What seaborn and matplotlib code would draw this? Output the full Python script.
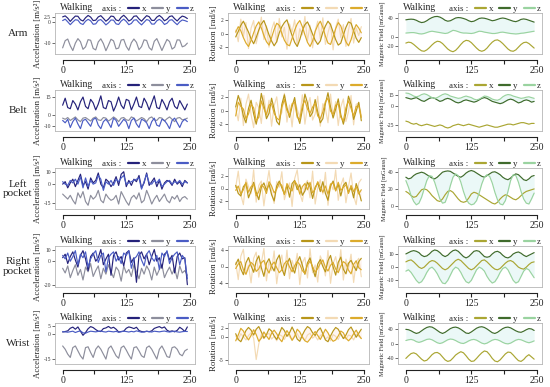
import numpy as np
import matplotlib
matplotlib.use("Agg")
import matplotlib.pyplot as plt
from matplotlib.lines import Line2D
import seaborn as sns

# sample step between stored points
STEP = 5

# ---- Arm ----
arm_acc_x = [2.6, 3.1, 2.0, 0.4, 1.8, 3.0, 2.9, 1.2, 0.6, 2.2, 3.3, 2.5, 0.8, 1.0, 2.6, 3.2, 1.9, 0.5, 1.5, 3.0,
             2.8, 1.1, 0.7, 2.4, 3.4, 2.2, 0.6, 1.3, 2.9, 3.1, 1.6, 0.5, 1.9, 3.2, 2.7, 0.9, 0.9, 2.5, 3.3, 2.3,
             0.7, 1.4, 2.8, 3.1, 1.7, 0.6, 2.0, 3.0, 2.6, 1.8]
arm_acc_y = [-12.5, -9.0, -8.2, -11.5, -13.8, -10.2, -8.0, -9.5, -13.2, -12.0, -8.5, -8.8, -12.8, -13.5, -9.6,
             -8.1, -10.4, -13.9, -11.2, -8.3, -9.1, -13.0, -12.6, -8.7, -8.4, -11.8, -13.7, -10.0, -8.2, -9.8,
             -13.4, -11.9, -8.6, -8.9, -12.4, -13.6, -9.3, -8.0, -10.8, -13.8, -11.0, -8.4, -9.4, -13.1, -12.2,
             -8.6, -8.7, -12.0, -11.5, -10.2]
arm_acc_z = [0.8, 1.5, 0.2, -1.2, 0.1, 1.2, 1.0, -0.6, -1.1, 0.5, 1.4, 0.7, -1.0, -0.8, 0.9, 1.3, 0.1, -1.3, -0.3,
             1.1, 1.0, -0.8, -1.1, 0.6, 1.5, 0.4, -1.2, -0.6, 1.0, 1.2, -0.2, -1.3, 0.0, 1.3, 0.9, -0.9, -0.9, 0.7,
             1.4, 0.5, -1.1, -0.5, 1.0, 1.2, -0.1, -1.2, 0.2, 1.1, 0.8, 0.3]
arm_rot_x = [-0.5, 0.3, 1.2, 1.8, 1.0, 0.2, -0.8, -1.5, -0.6, 0.5, 1.4, 1.9, 0.9, -0.2, -1.1, -1.8, -1.2, 0.1, 1.0,
             1.6, 2.0, 0.8, -0.3, -1.3, -1.9, -0.9, 0.4, 1.3, 1.7, 0.9, -0.1, -1.0, -1.6, -1.1, 0.2, 1.1, 1.8, 1.3,
             0.2, -0.9, -1.7, -1.4, -0.2, 0.9, 1.7, 1.5, 0.4, -0.7, -1.3, -0.6]
arm_rot_y = [0.5, -1.2, 2.1, -0.4, 1.6, -2.2, 0.8, 1.9, -1.5, 0.3, 2.4, -0.9, 1.1, -2.0, 0.6, 1.7, -1.3, 2.2, -0.5,
             0.9, -2.3, 1.4, 0.2, 2.0, -1.7, 0.7, -0.2, 2.5, -1.1, 1.2, -2.1, 0.4, 1.8, -0.8, 2.3, -1.6, 0.1, 1.5,
             -2.4, 0.9, 2.1, -0.6, 1.3, -1.9, 0.5, 2.2, -1.4, 0.8, -0.3, 1.0]
arm_rot_z = [0.2, 1.0, 0.4, -0.6, -1.4, -1.9, -1.0, 0.1, 1.1, 1.7, 0.8, -0.3, -1.2, -1.7, -0.6, 0.6, 1.5, 1.2, 0.0,
             -1.0, -1.6, -1.8, -0.7, 0.5, 1.4, 1.9, 1.0, -0.2, -1.3, -1.9, -1.1, 0.3, 1.2, 1.8, 0.9, -0.4, -1.4,
             -1.6, -0.5, 0.7, 1.6, 1.1, -0.1, -1.2, -1.8, -0.9, 0.4, 1.3, 0.8, 0.1]
arm_mag_x = [-14, -12, -13, -17, -22, -27, -31, -32, -29, -24, -18, -13, -10, -11, -15, -21, -27, -31, -33, -30,
             -24, -17, -11, -8, -9, -13, -19, -25, -30, -32, -30, -25, -18, -12, -8, -7, -10, -15, -21, -27, -31,
             -32, -29, -23, -17, -13, -12, -15, -20, -25]
arm_mag_y = [37, 38, 38.5, 38, 36, 33, 31, 32, 35, 39, 42, 44, 44.5, 43, 40, 36, 34, 35, 38, 41, 42, 41.5, 40, 38,
             35, 33, 34, 37, 40, 41, 40.5, 39, 37, 35, 36, 38, 40, 41, 40, 38, 36, 34, 33, 35, 38, 39, 38, 36, 34, 32]
arm_mag_z = [8, 8.5, 9, 9, 8, 6.5, 6, 7, 9, 11, 12, 11, 10, 9, 8, 7, 8, 11, 14, 13, 11, 9, 8, 8, 7.5, 7, 8, 10, 12,
             11.5, 10, 9, 8, 7, 7, 8, 9.5, 10, 9, 8, 7, 6.5, 6, 6.5, 7.5, 8, 9, 10, 11, 12]

# ---- Belt ----
belt_acc_x = [8, 14, 6, 5, 12, 9, 4, 11, 15, 7, 5, 13, 10, 4, 9, 16, 6, 5, 12, 11, 3, 8, 15, 8, 5, 13, 12, 4, 9, 15,
              7, 6, 14, 10, 4, 10, 16, 6, 5, 13, 9, 4, 11, 14, 7, 5, 12, 8, 4, 9]
belt_acc_y = [-3, -4, -2.5, -5, -3.5, -2, -4.5, -6, -3, -2.5, -4, -5.5, -3, -2, -4.5, -5, -2.5, -3, -5.5, -4, -2,
              -3.5, -6, -3, -2.5, -4.5, -5, -2, -3, -5.5, -4, -2.5, -3.5, -6, -3, -2, -4.5, -5, -2.5, -3, -5.5,
              -3.5, -2, -4, -6, -3, -2.5, -4.5, -4, -3]
belt_acc_z = [-5, -7, -4, -11, -6, -3, -8, -12, -5, -4, -7, -10, -4, -3, -9, -12, -6, -4, -7, -11, -3, -5, -10, -7,
              -4, -6, -12, -5, -3, -8, -11, -4, -5, -7, -12, -6, -3, -9, -10, -4, -5, -8, -12, -5, -3, -7, -11, -6,
              -4, -6]
belt_rot_x = [0.5, 2.2, 1.0, -0.8, -1.8, 0.3, 1.5, -0.5, -2.0, -0.2, 2.5, 0.8, -1.2, -0.4, 1.8, 0.2, -1.6, -2.1,
              0.9, 2.3, 0.4, -1.0, 0.6, 1.9, -0.7, -1.9, 0.1, 2.4, 1.1, -0.9, -0.3, 1.6, -0.2, -1.8, -1.2, 1.0, 2.6,
              0.5, -1.1, 0.2, 1.7, -0.6, -2.0, -0.4, 2.1, 0.9, -1.3, -0.1, 1.2, -1.5]
belt_rot_y = [0.3, -1.5, 1.8, -2.2, 0.9, 2.4, -0.6, -2.5, 1.2, 0.4, -1.9, 2.2, -0.8, 1.5, -2.3, 0.7, 2.0, -1.2,
              -0.3, 2.5, -1.7, 0.8, -2.4, 1.4, 0.2, -1.0, 2.3, -2.0, 0.6, 1.9, -1.4, -0.5, 2.1, -2.3, 1.0, 0.3, -1.8,
              2.4, -0.9, 1.3, -2.2, 0.5, 1.7, -1.6, -0.2, 2.2, -2.1, 0.9, 1.1, -0.7]
belt_rot_z = [-0.8, 1.2, 0.6, 0.2, -1.2, -0.5, 0.9, 0.4, -1.5, -1.0, 1.4, 0.3, -0.6, 0.8, 1.0, -0.4, -1.1, -1.4,
              0.5, 1.6, 0.0, -0.7, 1.0, 1.2, -1.0, -1.3, 0.7, 1.5, 0.2, -0.4, 0.5, 1.1, -0.8, -1.2, -0.2, 1.3, 1.8,
              -0.1, -0.6, 0.8, 1.0, -1.0, -1.5, 0.4, 1.4, 0.3, -0.8, 0.6, 0.7, -1.0]
belt_mag_x = [-20, -21, -23, -24, -23, -25, -26, -25, -24, -25, -26, -27, -26, -25, -26, -28, -29, -28, -26, -25,
              -24, -25, -26, -25, -24, -25, -26, -27, -28, -27, -26, -25, -26, -27, -28, -28, -27, -26, -25, -24,
              -24, -25, -24, -23, -22, -22, -23, -24, -23, -23]
belt_mag_y = [11, 10, 9, 10, 11, 9, 7, 6, 8, 10, 11, 10, 8, 6, 7, 9, 10, 9, 7, 5, 4, 5, 7, 8, 7, 6, 5, 6, 8, 10,
              11, 10, 8, 6, 5, 4, 3, 4, 6, 8, 9, 8, 6, 4, 5, 7, 8, 7, 5, 6]
belt_mag_z = [17, 16.5, 15, 13, 12, 13, 15, 16, 15, 13, 11, 10, 11, 13, 15, 16, 15, 13, 12, 11, 10, 10.5, 12, 13,
              12, 11, 9, 8, 9, 11, 13, 12.5, 11, 9, 8, 7.5, 9, 12, 14, 15, 14.5, 13, 12, 11, 10, 10.5, 11.5, 12, 11, 10]

# ---- Left pocket ----
lp_acc_x = [0, 2, -3, 1, 4, -2, 3, 8, -1, 2, -4, 5, 1, 3, 9, 0, -3, 4, 2, -2, 1, 6, -1, 8, 10, -2, 3, -1, 4, 2, 7,
            -3, 1, 9, -1, 2, 5, -2, 3, -4, 1, 3, 2, -1, 4, 0, 2, -2, 3, 1]
lp_acc_y = [-8, -10, -12, -9, -13, -16, -7, -11, -6, -14, -17, -9, -12, -10, -5, -13, -15, -8, -11, -13, -12, -9,
            -16, -6, -10, -14, -17, -11, -9, -12, -7, -15, -13, -5, -10, -16, -12, -9, -14, -11, -8, -13, -15, -10,
            -12, -9, -14, -11, -10, -12]
lp_acc_z = [2, 0, -1, 3, 1, 4, 0, 6, -3, 5, -2, 3, 0, 1, 7, 4, -5, 2, 0, 3, -1, 4, 2, 5, 7, 0, 1, 2, 3, 4, 5, -4, 2,
            8, 1, 0, 3, 1, 4, -2, 0, 2, 3, 0, 2, 1, 3, 0, 2, 1]
lp_rot_x = [0.5, -0.8, -1.2, 0.3, 0.8, -1.5, -0.4, 1.0, -0.6, -1.8, 0.2, 0.9, -0.3, 0.7, -1.0, -2.0, 0.4, 1.2, 0.1,
            -0.9, 0.5, -1.4, 0.8, 1.3, -0.2, 0.6, -1.1, -0.4, 1.0, 0.3, -1.6, 0.2, 0.9, -0.5, 1.1, -0.8, -1.9, 0.4,
            1.2, -0.3, 0.7, -1.2, 0.5, 1.0, -0.6, 0.2, -1.5, 0.8, -0.4, -2.0]
lp_rot_y = [0.2, 2.8, -1.0, -2.6, 1.5, 0.3, -0.8, 3.0, -2.2, 0.5, 1.2, -2.8, 0.4, 2.9, -0.6, -2.4, 1.1, 0.2, 2.7,
            -1.8, -0.3, 0.9, -2.9, 1.6, 3.0, -0.7, -2.1, 0.6, 1.3, -1.5, 2.8, -2.5, 0.1, 1.4, -0.9, 2.6, -2.7, 0.8,
            -0.2, 3.0, -1.9, 0.5, 1.7, -2.3, 0.3, 2.5, -1.2, -2.6, 0.9, 1.5]
lp_rot_z = [-0.3, 0.4, -0.9, -0.2, 1.0, -0.6, 0.3, 0.7, -1.2, -0.5, 0.6, 0.2, -0.8, 1.1, 0.4, -0.7, -0.1, 0.9, 0.5,
            -1.0, 0.8, 0.0, -0.4, 1.2, 0.6, -0.9, 0.3, 0.8, -0.2, 1.0, -0.7, -0.1, 1.1, 0.2, -0.6, 0.4, -0.9, 0.7,
            0.9, -0.4, 1.0, -0.3, 0.2, 0.6, -0.8, 0.5, -0.5, 0.3, -0.9, -0.2]
lp_mag_x = [17, 15, 12, 10, 11, 15, 19, 20, 19, 16, 12, 9, 6, 5, 8, 13, 17, 18, 16, 12, 8, 5, 4, 5, 9, 14, 16, 15,
            13, 11, 9, 7, 5, 3, 2, 4, 8, 11, 13, 12, 10, 8, 7, 9, 12, 15, 17, 18, 19, 20]
lp_mag_y = [34, 32, 33, 36, 38, 39, 40, 39, 37, 35, 33, 32, 34, 37, 40, 41, 41.5, 41, 39, 37, 35, 34, 36, 39, 41,
            42, 41, 39, 37, 35, 34, 36, 38, 40, 40.5, 39, 37, 34, 32, 31, 33, 36, 38, 37, 34, 31, 30, 32, 35, 36]
lp_mag_z = [30, 22, 12, 5, 1, 3, 10, 20, 30, 36, 35, 28, 18, 8, 3, 4, 12, 24, 34, 38, 36, 28, 17, 8, 3, 1, 2, 6, 15,
            26, 34, 37, 35, 27, 16, 7, 2, 1, 6, 17, 30, 37, 36, 28, 17, 8, 3, 2, 8, 15]

# ---- Right pocket ----
rp_acc_x = [3, 6, -2, 4, 8, 1, -5, 5, 9, 2, -8, 4, 7, 0, 3, 10, -3, 2, 6, -12, 5, 8, 1, 4, -4, 7, 9, -1, 3, -18, 5,
            8, 2, 6, -3, 4, 10, 0, 3, -6, 6, 8, 1, 5, -10, 4, 7, 2, 3, -20]
rp_acc_y = [-6, -10, -4, -14, -8, -3, -12, -7, -16, -5, -9, -2, -13, -8, -4, -15, -6, -11, -3, -9, -14, -5, -8, -17,
            -4, -10, -7, -13, -3, -9, -15, -6, -11, -4, -8, -16, -5, -12, -7, -3, -14, -9, -5, -11, -6, -15, -4,
            -10, -8, -12]
rp_acc_z = [5, 2, 7, 0, 4, 9, -3, 6, 3, 8, -5, 2, 6, 9, -1, 5, 7, -9, 3, 6, 8, 0, 4, -2, 7, 5, 9, -6, 2, 4, 8, 1,
            -4, 6, 9, 3, 0, 5, -7, 7, 4, 9, -2, 3, 6, 8, -3, 5, 2, -15]
rp_rot_x = [0.5, 1.8, -0.6, -2.0, 0.9, 2.2, 0.2, -1.4, 1.3, 2.6, -0.3, -2.4, 0.8, 1.9, 0.1, -1.1, 1.6, 2.8, -0.5,
            -2.2, 0.7, 2.0, -0.2, -1.6, 1.1, 2.4, 0.3, -1.9, 0.9, 2.1, -0.4, -2.5, 0.6, 1.7, 0.0, -1.3, 1.4, 2.7,
            -0.1, -2.1, 1.0, 2.3, -0.7, -1.8, 0.8, 1.5, 0.2, -1.0, 1.2, 2.0]
rp_rot_y = [1.0, -3.2, 2.5, 4.2, -1.8, 0.3, -4.0, 2.0, 3.5, -2.6, 0.8, 4.4, -3.5, 1.2, -1.0, 3.8, -4.2, 0.5, 2.8,
            -2.0, 4.0, -3.0, 1.5, -0.6, 3.2, -4.4, 0.9, 2.2, -2.8, 4.3, -1.5, 0.4, -3.8, 2.6, 1.0, -2.3, 3.9, -4.1,
            0.7, 2.4, -1.2, 4.1, -3.3, 1.8, -0.4, 3.0, -3.9, 1.1, 2.0, -2.5]
rp_rot_z = [-0.5, 0.6, 1.2, -0.8, -1.9, -0.2, 1.0, 0.4, -1.2, -0.6, 0.9, 1.5, -0.4, -1.6, 0.3, 1.1, -0.3, -1.5,
            -0.8, 0.7, 1.4, -0.1, -1.3, 0.2, 1.2, 0.5, -1.0, -1.7, 0.4, 1.3, 0.0, -1.4, -0.5, 0.8, 1.6, -0.2, -1.1,
            0.3, 1.0, -0.6, -1.5, 0.1, 1.2, 0.7, -0.9, -1.8, 0.5, 1.4, -0.3, -0.8]
rp_mag_x = [4, 5, 5.5, 4, 2, 0, -1, 0, 2, 4, 5, 4.5, 3, 1, -1, -2, -1, 1, 3, 5, 6, 5, 3, 1, -1, -2, -1, 1, 3, 5, 5.5,
            4, 2, 0, -1.5, -2, -1, 1, 3, 4.5, 5, 4, 2, 0, -1, -1.5, 0, 2, 3.5, 4]
rp_mag_y = [10, 11, 12, 12.5, 12, 11, 9, 8, 8.5, 10, 12, 13, 12.5, 11, 9, 8, 9, 11, 12.5, 13, 12, 10, 8, 7, 8, 10,
            12, 12.5, 12, 10, 8, 7.5, 8, 10, 11.5, 12, 11, 9, 7.5, 7, 8, 10, 11, 11.5, 10.5, 9, 8, 9, 10, 11]
rp_mag_z = [-3, -2, -4, -7, -10, -12, -11, -8, -4, -1, 0, -2, -5, -9, -12, -12.5, -10, -6, -2, 0, -1, -4, -8, -11,
            -12, -10, -6, -2, 0, -1, -3, -7, -10, -12, -11, -8, -4, -1, 0, -2, -6, -10, -12, -11, -7, -3, -1, -2,
            -5, -8]

# ---- Wrist ----
wr_acc_x = [1.5, 1.8, 2.2, 3.8, 4.5, 3.2, 4.6, 2.0, -0.5, 1.2, 3.5, 4.8, 4.2, 3.0, 2.0, 1.8, 3.6, 4.0, 4.9, 3.8,
            4.4, 3.2, 1.5, 1.8, 2.0, 3.8, 4.6, 4.2, 3.6, 4.4, 2.4, 1.8, 1.6, 2.0, 1.7, 2.2, 3.7, 4.3, 4.8, 3.9, 4.6,
            2.6, 1.8, 2.2, 1.6, 2.5, 4.4, 3.3, 1.8, 4.6]
wr_acc_y = [-7, -9, -12, -14, -8, -7, -10, -13, -15, -8, -7.5, -11, -14, -9, -7, -9, -12, -15, -8.5, -7, -10, -13,
            -14.5, -8, -7, -9.5, -12.5, -15, -8, -7.5, -10, -13, -14, -8, -7, -9, -12, -15, -9, -7, -10, -13.5, -14,
            -8, -7.5, -9, -12, -13, -10, -9]
wr_acc_z = [1.8, 1.6, 1.4, 1.7, 2.0, 1.2, 1.8, 2.2, 1.0, 0.8, 1.5, 2.0, 1.8, 1.6, 1.9, 2.1, 1.7, 1.5, 2.0, 1.8, 1.6,
            1.9, 1.4, 1.7, 2.0, 1.8, 1.5, 1.9, 1.6, 2.2, 1.8, 1.4, 1.6, 1.9, 1.7, 1.5, 2.0, 1.8, 1.6, 1.9, 2.1, 1.7,
            1.5, 1.8, 2.0, 1.6, 1.4, 1.7, 1.9, 1.8]
wr_rot_x = [0.8, -0.5, -1.0, 0.2, 1.5, 2.2, 1.6, 0.5, 1.8, 2.4, 1.2, -0.2, 0.6, 1.9, 1.4, 0.3, -0.5, 0.8, 2.2, 1.5,
            0.2, 1.0, 2.3, 1.1, -0.4, -0.9, 0.5, 1.6, 2.4, 2.0, 1.0, 0.4, 1.5, 2.1, 0.8, -0.6, -1.0, 0.3, 1.4, 2.2,
            1.8, 0.7, -0.3, 0.5, 1.7, 2.3, 1.2, 0.0, 0.9, 1.8]
wr_rot_y = [0.3, -0.5, 0.8, 0.1, -0.6, 0.4, 1.0, -0.2, -5.0, -1.5, 0.6, -0.3, 0.5, 0.9, -0.4, 0.2, -0.8, 0.6, 0.3,
            -0.5, 0.7, 0.1, -0.6, 0.4, 0.8, -0.3, 0.2, -0.7, 0.5, 0.9, -0.2, 0.3, -0.6, 0.4, 0.7, -0.4, 0.1, -0.8,
            0.6, 0.2, -0.5, 0.8, 0.0, -0.4, 0.5, 0.3, -0.6, 0.7, 0.2, -0.3]
wr_rot_z = [-0.8, 0.5, 2.0, 1.4, 0.2, -0.6, 0.4, 1.7, 0.6, -0.9, -0.2, 1.2, 0.3, -0.5, 0.9, 1.6, 0.8, -0.3, -1.0,
            0.4, 1.5, 0.6, -0.7, 0.2, 1.8, 1.2, 0.0, -0.8, -1.1, -0.4, 0.5, 1.3, 0.4, -0.5, 0.6, 1.8, 1.0, -0.2,
            -0.9, -0.6, 0.3, 1.4, 1.0, -0.2, -0.8, -0.2, 0.8, 1.6, 0.5, -0.3]
wr_mag_x = [-40, -33, -27, -25, -28, -35, -42, -47, -45, -38, -30, -25, -24, -28, -36, -44, -48, -46, -39, -31, -26,
            -22, -25, -33, -42, -48, -47, -40, -32, -25, -20, -22, -30, -40, -47, -49, -44, -36, -28, -23, -24, -31,
            -39, -46, -48, -43, -35, -30, -36, -42]
wr_mag_y = [38, 37, 34, 30, 27, 29, 34, 39, 43, 45, 44, 40, 35, 30, 27, 30, 35, 40, 43, 44, 42, 38, 33, 28, 27, 31,
            36, 41, 44, 45, 43, 39, 34, 29, 27, 30, 35, 40, 43, 44, 42, 38, 34, 31, 30, 33, 37, 40, 39, 35]
wr_mag_z = [8, 10, 11, 9, 5, 3, 5, 8, 11, 12, 10, 6, 2, 0, 2, 6, 10, 12, 11, 8, 4, 1, 0, 3, 7, 10, 11, 9, 5, 1, -1,
            1, 5, 9, 11, 10, 7, 3, 0, -1, 1, 5, 9, 11, 10, 7, 4, 2, 4, 7]

row_labels = ["Arm", "Belt", "Left\npocket", "Right\npocket", "Wrist"]
x_ticks = [0, 62.5, 125, 187.5, 250]
x_ticklabels = ["0", "", "125", "", "250"]

# sensor styling: colors for x/y/z
ACC_COLORS = {"x": "#25227a", "y": "#8d8e9c", "z": "#4a5cc4"}
ROT_COLORS = {"x": "#b8961a", "y": "#f3dab4", "z": "#dcab2c"}
MAG_COLORS = {"x": "#aaa633", "y": "#3f6b2c", "z": "#9ad3a0"}

panels = [
    # row, col, (x, y, z), colors, kind, ylim, yticks
    (0, 0, (arm_acc_x, arm_acc_y, arm_acc_z), ACC_COLORS, "acc", (-15.5, 4.5), [2.5, 0, -10]),
    (0, 1, (arm_rot_x, arm_rot_y, arm_rot_z), ROT_COLORS, "rot", (-3, 3), [2, 0, -2]),
    (0, 2, (arm_mag_x, arm_mag_y, arm_mag_z), MAG_COLORS, "mag", (-38, 52), [40, 0, -20]),
    (1, 0, (belt_acc_x, belt_acc_y, belt_acc_z), ACC_COLORS, "acc", (-14, 21), [15, 0, -10]),
    (1, 1, (belt_rot_x, belt_rot_y, belt_rot_z), ROT_COLORS, "rot", (-3, 3), [2, 0, -2]),
    (1, 2, (belt_mag_x, belt_mag_y, belt_mag_z), MAG_COLORS, "mag", (-33, 21), [15, 0, -25]),
    (2, 0, (lp_acc_x, lp_acc_y, lp_acc_z), ACC_COLORS, "acc", (-20, 13), [10, 0, -15]),
    (2, 1, (lp_rot_x, lp_rot_y, lp_rot_z), ROT_COLORS, "rot", (-3.3, 3.3), [2, 0, -2]),
    (2, 2, (lp_mag_x, lp_mag_y, lp_mag_z), MAG_COLORS, "mag", (-4, 45), [40, 20, 0]),
    (3, 0, (rp_acc_x, rp_acc_y, rp_acc_z), ACC_COLORS, "acc", (-22, 13), [10, 0, -20]),
    (3, 1, (rp_rot_x, rp_rot_y, rp_rot_z), ROT_COLORS, "rot", (-5, 5), [4, 0, -4]),
    (3, 2, (rp_mag_x, rp_mag_y, rp_mag_z), MAG_COLORS, "mag", (-15, 16), [10, 0, -10]),
    (4, 0, (wr_acc_x, wr_acc_y, wr_acc_z), ACC_COLORS, "acc", (-18, 7), [5, 0, -15]),
    (4, 1, (wr_rot_x, wr_rot_y, wr_rot_z), ROT_COLORS, "rot", (-6, 3.2), [2, 0, -5]),
    (4, 2, (wr_mag_x, wr_mag_y, wr_mag_z), MAG_COLORS, "mag", (-55, 55), [40, 0, -40]),
]

YLABELS = {"acc": "Acceleration [m/s²]", "rot": "Rotation [rad/s]", "mag": "Magnetic Field [mGauss]"}

sns.set_theme(style="ticks")
plt.rcParams["font.family"] = ["Liberation Serif", "DejaVu Serif"]
plt.rcParams["axes.linewidth"] = 0.6

W, H = 550, 387
fig = plt.figure(figsize=(5.5, 3.87), dpi=100)

col_px = [(55, 195), (228, 369), (398, 542)]
row_top_px = [13, 90, 168, 246, 323]
frame_h = 41

for row, col, (sx, sy, sz), colors, kind, ylim, yticks in panels:
    x0, x1 = col_px[col]
    top = row_top_px[row]
    ax = fig.add_axes([x0 / W, 1 - (top + frame_h) / H, (x1 - x0) / W, frame_h / H])

    t = np.arange(len(sx)) * STEP

    # faint shading behind the traces
    if kind == "mag":
        ax.fill_between(np.arange(len(sy)) * STEP, sy, sz, color="#ebf8f7", lw=0, zorder=0)
    elif kind == "rot":
        ax.fill_between(t, np.minimum(sx, sz), np.maximum(sx, sz), color="#fef5f1", lw=0, zorder=0)

    sns.lineplot(x=np.arange(len(sy)) * STEP, y=sy, ax=ax, color=colors["y"], linewidth=0.85, zorder=2)
    sns.lineplot(x=t, y=sx, ax=ax, color=colors["x"], linewidth=0.85, zorder=3)
    sns.lineplot(x=np.arange(len(sz)) * STEP, y=sz, ax=ax, color=colors["z"], linewidth=0.85, zorder=3)

    ax.set_xlim(-15, 260)
    ax.set_ylim(*ylim)
    ax.set_yticks(yticks)
    ax.set_yticklabels([f"{v:g}" for v in yticks])
    ax.set_xticks(x_ticks)
    ax.set_xticklabels(x_ticklabels)
    ax.tick_params(axis="y", labelsize=4, length=2, width=0.5, pad=1, colors="#333333")
    ax.tick_params(axis="x", labelsize=7, length=3, width=0.8, pad=1.5, colors="#222222")

    for side in ("top", "left", "right"):
        ax.spines[side].set_color("#b5b5b5")
        ax.spines[side].set_linewidth(0.6)
    ax.spines["bottom"].set_position(("outward", 4))
    ax.spines["bottom"].set_bounds(0, 250)
    ax.spines["bottom"].set_color("#222222")
    ax.spines["bottom"].set_linewidth(0.8)
    ax.plot([0, 1], [0, 0], transform=ax.transAxes, color="#b5b5b5", lw=0.6, clip_on=False)

    ax.set_ylabel(YLABELS[kind], fontsize=4.5 if kind == "mag" else 6.3, labelpad=1)

    ax.text(0.035, 1.02, "Walking", transform=ax.transAxes, fontsize=7, va="bottom", ha="left")
    handles = [Line2D([], [], color="none")] + [Line2D([], [], color=colors[k], lw=1.6) for k in "xyz"]
    ax.legend(handles, ["axis :", "x", "y", "z"], loc="lower right", bbox_to_anchor=(1.0, 0.98), ncol=4,
              frameon=False, fontsize=6.5, handlelength=1.2, handletextpad=0.3, columnspacing=0.7,
              borderpad=0.1, borderaxespad=0.0)

for row, label in enumerate(row_labels):
    yc = 1 - (row_top_px[row] + frame_h / 2) / H
    fig.text(18 / W, yc, label, ha="center", va="center", fontsize=8, linespacing=1.0)

fig.savefig("out.png", dpi=100)
